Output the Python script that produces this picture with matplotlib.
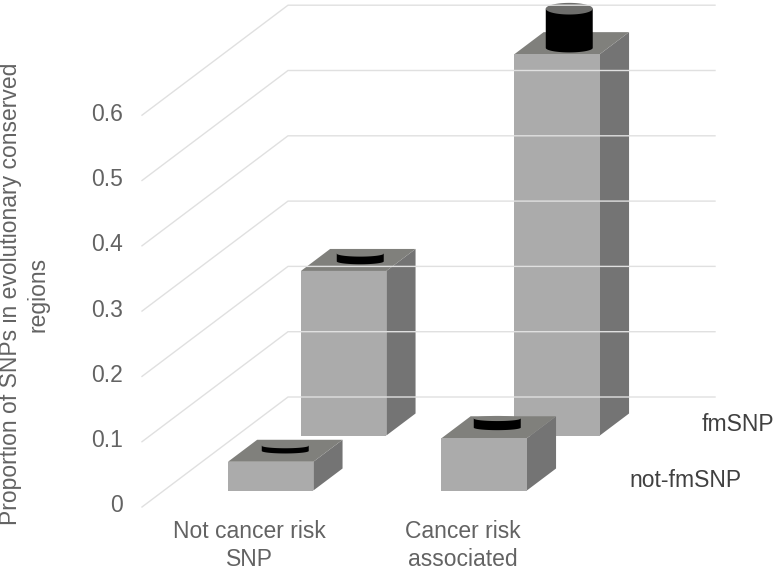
import numpy as np
import matplotlib
matplotlib.use('Agg')
import matplotlib.pyplot as plt
from matplotlib.patches import Polygon

plt.rcParams['font.family'] = ['Liberation Sans', 'DejaVu Sans']

categories = ['Not cancer risk\nSNP', 'Cancer risk\nassociated']
series_names = ['not-fmSNP', 'fmSNP']
tick_values = [0, 0.1, 0.2, 0.3, 0.4, 0.5, 0.6]
tick_labels = ['0', '0.1', '0.2', '0.3', '0.4', '0.5', '0.6']

# gris = base, negro = cilindro de arriba
not_fm_base = [0.044, 0.080]
not_fm_top = [0.008, 0.014]
fm_base = [0.252, 0.584]
fm_top = [0.012, 0.060]

FACE = '#ababab'
SIDE = '#747474'
TOP = '#80807c'
GRID = '#e0e0e0'
TEXT = '#636363'

# proyeccion oblicua: categoria, profundidad (0-1), valor -> pixeles
X0, Y0 = 142, 507
CAT_W = 213.5
DEPTH_X, DEPTH_Y = 146, -110
VAL_H = -653


def proj(c, d, v):
    return (X0 + c * CAT_W + d * DEPTH_X, Y0 + d * DEPTH_Y + v * VAL_H)


def caja(ax, c, d, v, w=0.4, dd=0.2):
    l, r = c - w / 2, c + w / 2
    f, b = d - dd / 2, d + dd / 2
    ax.add_patch(Polygon([proj(r, f, 0), proj(r, b, 0), proj(r, b, v), proj(r, f, v)], fc=SIDE, ec='none'))
    ax.add_patch(Polygon([proj(l, f, v), proj(r, f, v), proj(r, b, v), proj(l, b, v)], fc=TOP, ec='none'))
    ax.add_patch(Polygon([proj(l, f, 0), proj(r, f, 0), proj(r, f, v), proj(l, f, v)], fc=FACE, ec='none'))


def cilindro(ax, c, d, v0, h, dx=0, w=0.22):
    # la elipse se abre un poco mas arriba, como en la perspectiva original
    t = np.linspace(0, 2 * np.pi, 80)
    rx = w * CAT_W / 2
    cx, cy0 = proj(c, d, v0)
    cx += dx
    cy0 += 7 * v0 ** 2 + 4 * v0
    cy1 = cy0 + h * VAL_H
    ry0 = 2.5 + 6 * v0 ** 2
    ry1 = 2.5 + 8 * (v0 + h) ** 2
    front = np.linspace(0, np.pi, 40)
    xs = np.r_[cx - rx, cx + rx * np.cos(front)[::-1], cx + rx]
    ys = np.r_[cy1, cy0 + ry0 * np.sin(front)[::-1], cy1]
    ax.add_patch(Polygon(np.c_[xs, ys], fc='black', ec='none'))
    col = '#6e6e6c' if h > 0.03 else TOP
    ax.fill(cx + rx * np.cos(t), cy1 + ry1 * np.sin(t), fc=col, ec='none')


fig = plt.figure(figsize=(7.75, 5.69), dpi=100)
ax = fig.add_axes([0, 0, 1, 1])
ax.set_xlim(0, 775)
ax.set_ylim(569, 0)
ax.axis('off')

for v in tick_values:
    p = np.array([proj(0, 0, v), proj(0, 1, v), proj(2, 1, v)])
    ax.plot(p[:, 0], p[:, 1], color=GRID, lw=1.0, solid_joinstyle='miter')

for c, dx in zip(range(2), [2, -2.5]):
    caja(ax, c + 0.5, 0.75, fm_base[c])
    cilindro(ax, c + 0.5, 0.75, fm_base[c], fm_top[c], dx)
for c, dx in zip(range(2), [0, -1.5]):
    caja(ax, c + 0.5, 0.25, not_fm_base[c])
    cilindro(ax, c + 0.5, 0.25, not_fm_base[c], not_fm_top[c], dx)

for v, lab in zip(tick_values, tick_labels):
    x, y = proj(0, 0, v)
    ax.text(x - 19, y - 1, lab, ha='right', va='center', fontsize=16.5, color=TEXT)

for c, lab in enumerate(categories):
    x, y = proj(c + 0.5, 0, 0)
    ax.text(x + 1, 545.5, lab, ha='center', va='center', fontsize=16.5, color=TEXT, linespacing=1.25)

ax.text(702, 424, series_names[1], ha='left', va='center', fontsize=16.5, color='#404040')
ax.text(629, 480, series_names[0], ha='left', va='center', fontsize=16.5, color='#404040')

ax.text(24, 294, 'Proportion of SNPs in evolutionary conserved\nregions', rotation=90,
        ha='center', va='center', fontsize=16.5, color=TEXT, linespacing=1.25, multialignment='center')

fig.savefig('out.png', dpi=100)
